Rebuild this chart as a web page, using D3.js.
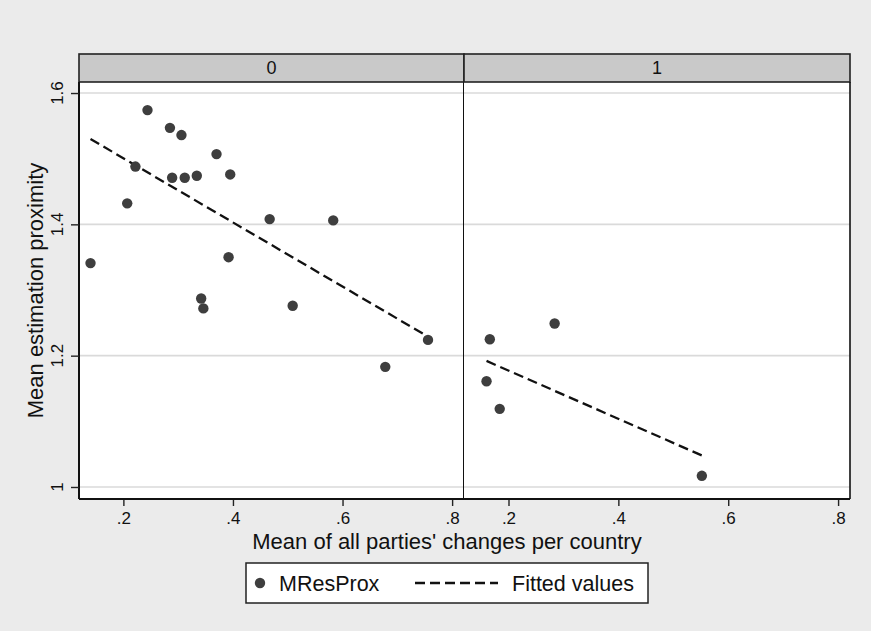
<!DOCTYPE html>
<html>
<head>
<meta charset="utf-8">
<script src="https://cdn.jsdelivr.net/npm/d3@7"></script>
<style>
  html, body { margin: 0; padding: 0; background: #ebebeb; }
  svg { display: block; }
  text { font-family: "Liberation Sans", Arial, sans-serif; fill: #111; }
</style>
</head>
<body>
<script>
// ---- Data ----
const panels = ["0", "1"];
const xPanel0 = [0.244, 0.285, 0.306, 0.370, 0.222, 0.289, 0.312, 0.334, 0.395, 0.207,
                 0.467, 0.583, 0.140, 0.392, 0.342, 0.346, 0.509, 0.678, 0.756];
const yPanel0 = [1.574, 1.547, 1.536, 1.507, 1.488, 1.471, 1.471, 1.474, 1.476, 1.432,
                 1.408, 1.406, 1.341, 1.350, 1.287, 1.272, 1.276, 1.183, 1.224];
const xPanel1 = [0.166, 0.284, 0.160, 0.184, 0.552];
const yPanel1 = [1.225, 1.249, 1.161, 1.119, 1.017];
const fitX0 = [0.140, 0.756];
const fitY0 = [1.530, 1.229];
const fitX1 = [0.160, 0.552];
const fitY1 = [1.192, 1.048];
const xTicks = [0.2, 0.4, 0.6, 0.8];
const yTicks = [1.0, 1.2, 1.4, 1.6];
const seriesNames = ["MResProx", "Fitted values"];
const xTitle = "Mean of all parties' changes per country";
const yTitle = "Mean estimation proximity";

const W = 871, H = 631;
const svg = d3.select("body").append("svg").attr("width", W).attr("height", H);
svg.append("rect").attr("width", W).attr("height", H).attr("fill", "#ebebeb");

const stripTop = 54, plotTop = 82, plotBottom = 499;
const panelX = [[79, 464], [464, 850]];
const y = d3.scaleLinear().domain([0.9817, 1.6168]).range([plotBottom, plotTop]);

const fmtX = d => d3.format(".1f")(d).replace(/^0/, "");
const fmtY = d => (d === 1 ? "1" : d3.format(".1f")(d));

const data = [
  { xs: xPanel0, ys: yPanel0, fx: fitX0, fy: fitY0 },
  { xs: xPanel1, ys: yPanel1, fx: fitX1, fy: fitY1 }
];

panels.forEach((p, i) => {
  const [x0, x1] = panelX[i];
  const x = d3.scaleLinear().domain([0.119, 0.8217]).range([x0, x1]);
  const g = svg.append("g");
  // plot background
  g.append("rect").attr("x", x0).attr("y", plotTop).attr("width", x1 - x0)
    .attr("height", plotBottom - plotTop).attr("fill", "#ffffff");
  // gridlines
  g.selectAll("line.grid").data(yTicks).join("line").attr("class", "grid")
    .attr("x1", x0).attr("x2", x1).attr("y1", d => y(d)).attr("y2", d => y(d))
    .attr("stroke", "#dadada").attr("stroke-width", 1.6);
  // strip
  g.append("rect").attr("x", x0).attr("y", stripTop).attr("width", x1 - x0)
    .attr("height", plotTop - stripTop).attr("fill", "#c9c9c9")
    .attr("stroke", "#222").attr("stroke-width", 1.6);
  g.append("text").attr("x", (x0 + x1) / 2).attr("y", 73.5).attr("text-anchor", "middle")
    .attr("font-size", 18).text(p);
  // fitted line
  const fd = data[i].fx.map((v, k) => [v, data[i].fy[k]]);
  g.append("path").datum(fd)
    .attr("d", d3.line().x(e => x(e[0])).y(e => y(e[1])))
    .attr("fill", "none").attr("stroke", "#111").attr("stroke-width", 2.3)
    .attr("stroke-dasharray", "10,5");
  // points
  const pts = data[i].xs.map((v, k) => [v, data[i].ys[k]]);
  g.selectAll("circle").data(pts).join("circle")
    .attr("cx", e => x(e[0])).attr("cy", e => y(e[1])).attr("r", 5.2)
    .attr("fill", "#3e3e3e");
  // x axis
  const ax = g.append("g").attr("transform", `translate(0,${plotBottom})`)
    .call(d3.axisBottom(x).tickValues(xTicks).tickFormat(fmtX).tickSize(7));
  ax.select(".domain").remove();
  ax.selectAll("line").attr("stroke", "#222").attr("stroke-width", 1.4);
  ax.selectAll("text").attr("y", 25).attr("dy", null).attr("font-size", 17)
    .attr("font-family", "Liberation Sans, Arial, sans-serif").attr("fill", "#111");
  // panel frame
  g.append("line").attr("x1", x0).attr("x2", x1).attr("y1", plotBottom).attr("y2", plotBottom)
    .attr("stroke", "#111").attr("stroke-width", 2);
  g.append("line").attr("x1", x1).attr("x2", x1).attr("y1", plotTop).attr("y2", plotBottom)
    .attr("stroke", "#111").attr("stroke-width", i === 0 ? 2 : 1.6);
  if (i === 0) {
    g.append("line").attr("x1", x0).attr("x2", x0).attr("y1", plotTop).attr("y2", plotBottom)
      .attr("stroke", "#111").attr("stroke-width", 2);
  }
});

// y axis ticks (left)
const ya = svg.append("g").attr("transform", `translate(79,0)`)
  .call(d3.axisLeft(y).tickValues(yTicks).tickFormat(fmtY).tickSize(8));
ya.select(".domain").remove();
ya.selectAll("line").attr("stroke", "#222").attr("stroke-width", 1.4);
ya.selectAll("text").remove();
svg.selectAll("text.ylab").data(yTicks).join("text").attr("class", "ylab")
  .attr("transform", d => `translate(63,${y(d)}) rotate(-90)`)
  .attr("text-anchor", "middle").attr("font-size", 17).text(fmtY);

// axis titles
svg.append("text").attr("x", 447).attr("y", 549).attr("text-anchor", "middle")
  .attr("font-size", 22).text(xTitle);
svg.append("text").attr("transform", `translate(43,${(plotTop + plotBottom) / 2}) rotate(-90)`)
  .attr("text-anchor", "middle").attr("font-size", 22).text(yTitle);

// legend
const lg = svg.append("g");
lg.append("rect").attr("x", 246).attr("y", 563).attr("width", 402).attr("height", 40)
  .attr("fill", "#ffffff").attr("stroke", "#222").attr("stroke-width", 1.5);
lg.append("circle").attr("cx", 260).attr("cy", 583).attr("r", 5.2).attr("fill", "#3e3e3e");
lg.append("text").attr("x", 279).attr("y", 591).attr("font-size", 21.5).text(seriesNames[0]);
lg.append("line").attr("x1", 415).attr("x2", 498).attr("y1", 583).attr("y2", 583)
  .attr("stroke", "#111").attr("stroke-width", 2.3).attr("stroke-dasharray", "10,5");
lg.append("text").attr("x", 512).attr("y", 591).attr("font-size", 21.5).text(seriesNames[1]);
</script>
</body>
</html>
